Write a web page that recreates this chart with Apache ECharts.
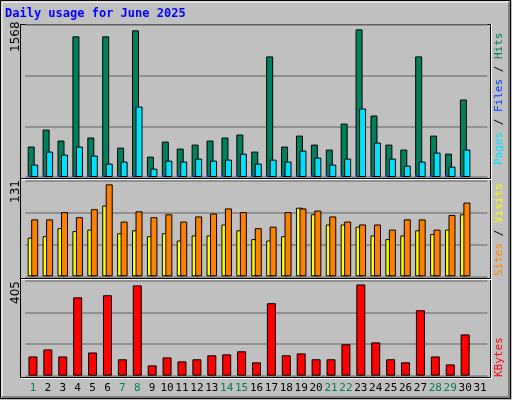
<!DOCTYPE html>
<html><head><meta charset="utf-8">
<script src="https://cdn.jsdelivr.net/npm/echarts@6/dist/echarts.min.js"></script>
<style>html,body{margin:0;padding:0;background:#c0c0c0}#c{width:512px;height:400px}</style>
</head><body><div id="c"></div>
<script>
const days = ['1','2','3','4','5','6','7','8','9','10','11','12','13','14','15','16','17','18','19','20','21','22','23','24','25','26','27','28','29','30','31'];
const weekend = ['1','7','8','14','15','21','22','28','29'];
const hits = [314,489,376,1451,407,1451,303,1513,210,365,293,334,376,407,438,262,1244,314,427,334,283,551,1523,634,334,283,1244,427,241,799,null];
const pages = [128,262,231,314,221,138,159,727,86,169,159,190,169,179,241,138,179,159,272,200,128,190,706,355,190,117,159,252,107,283,null];
const files = [25,25,25,25,25,25,25,25,25,25,25,25,25,25,25,25,25,25,25,25,25,25,25,25,25,25,25,25,25,25,null];
const visits = [53,55,66,62,64,97,59,63,55,59,49,56,56,71,63,51,49,55,94,85,71,71,68,56,51,56,63,58,64,85,null];
const sites = [78,78,88,81,92,126,75,89,81,85,75,82,86,93,88,66,68,88,93,90,82,75,71,71,64,78,78,64,84,101,null];
const kbytes = [82,112,82,334,99,343,70,385,44,78,61,70,87,91,104,57,309,87,95,70,70,134,389,142,70,57,279,82,48,176,null];
const maxHits = 1568, maxVisits = 131, maxKB = 405;

const L = 25.5, W = 462;
const grids = [
  {left:L, width:W, top:25, height:152},
  {left:L, width:W, top:180.7, height:95.6},
  {left:L, width:W, top:280.7, height:95}
];
const F = '11px "DejaVu Sans Mono"';
function xa(gi, show){
  return {type:'category', data:days, gridIndex:gi, boundaryGap:true,
    axisLine:{show:false}, axisTick:{show:false}, splitLine:{show:false},
    axisLabel:{show:!!show, interval:0, margin:7, fontFamily:'DejaVu Sans Mono', fontSize:11,
      formatter:v=> weekend.includes(v)?'{g|'+v+'}':'{b|'+v+'}',
      rich:{g:{color:'#00805c',fontFamily:'DejaVu Sans Mono',fontSize:11},b:{color:'#000',fontFamily:'DejaVu Sans Mono',fontSize:11}}}};
}
function ya(gi, max){
  return {type:'value', gridIndex:gi, min:0, max:max, interval:max/3,
    axisLine:{show:false}, axisTick:{show:false}, axisLabel:{show:false},
    splitLine:{lineStyle:{color:'#808080', width:1.5}}};
}
const bs = c => ({color:c, borderColor:'#000', borderWidth:1});
const option = {
  animation:false, backgroundColor:'#c0c0c0',
  grid: grids,
  xAxis:[xa(0), xa(0), xa(1), xa(2,true)],
  yAxis:[ya(0,maxHits), ya(1,maxVisits), ya(2,maxKB)],
  series:[
    {name:'Hits', type:'bar', xAxisIndex:0, yAxisIndex:0, data:hits, barWidth:7, barGap:'-50%', itemStyle:bs('#00805c')},
    {name:'Pages', type:'bar', xAxisIndex:0, yAxisIndex:0, data:pages, barWidth:7, barGap:'-50%', itemStyle:bs('#00e0ff')},
    {name:'Files', type:'bar', xAxisIndex:1, yAxisIndex:0, data:files, barWidth:2, barGap:'0%', itemStyle:{color:'#0040ff'}},
    {name:'pad', type:'bar', xAxisIndex:1, yAxisIndex:0, data:files.map(()=>null), barWidth:8, barGap:'0%', silent:true, itemStyle:{color:'transparent'}},
    {name:'Visits', type:'bar', xAxisIndex:2, yAxisIndex:1, data:visits, barWidth:7, barGap:'-50%', itemStyle:bs('#ffff00')},
    {name:'Sites', type:'bar', xAxisIndex:2, yAxisIndex:1, data:sites, barWidth:7, barGap:'-50%', itemStyle:bs('#ff8000')},
    {name:'KBytes', type:'bar', xAxisIndex:3, yAxisIndex:2, data:kbytes, barWidth:9, itemStyle:bs('#ff0000')}
  ],
  graphic:[
    {type:'rect', z:-10, shape:{x:0.5,y:0.5,width:510,height:398}, style:{fill:'none', stroke:'#000', lineWidth:1}},
    {type:'rect', z:-10, shape:{x:2,y:2,width:507,height:395}, style:{fill:'none', stroke:'#fff', lineWidth:1}},
    {type:'polyline', z:-10, shape:{points:[[2,397],[509,397],[509,2]]}, style:{stroke:'#808080', lineWidth:2, fill:null}},
    {type:'rect', z:-9, shape:{x:20.5,y:24.5,width:470,height:353}, style:{fill:'none', stroke:'#000', lineWidth:1}},
    {type:'polyline', z:-9, shape:{points:[[21,378.5],[491.5,378.5],[491.5,24]]}, style:{stroke:'#fff', lineWidth:1, fill:null}},
    {type:'line', z:10, shape:{x1:21,y1:178.5,x2:491,y2:178.5}, style:{stroke:'#000', lineWidth:1}},
    {type:'line', z:10, shape:{x1:21,y1:179.5,x2:491,y2:179.5}, style:{stroke:'#fff', lineWidth:1}},
    {type:'line', z:10, shape:{x1:21,y1:278.5,x2:491,y2:278.5}, style:{stroke:'#000', lineWidth:1}},
    {type:'line', z:10, shape:{x1:21,y1:279.5,x2:491,y2:279.5}, style:{stroke:'#fff', lineWidth:1}},
    {type:'text', left:5, top:8, style:{text:'Daily usage for June 2025', fill:'#0000ff', font:'bold 12px "DejaVu Sans Mono"'}},
    {type:'text', x:10, y:52, rotation:Math.PI/2, style:{text:String(maxHits), fill:'#000', font:'12px "DejaVu Sans"', align:'left', verticalAlign:'top'}},
    {type:'text', x:10, y:203, rotation:Math.PI/2, style:{text:String(maxVisits), fill:'#000', font:'12px "DejaVu Sans"', align:'left', verticalAlign:'top'}},
    {type:'text', x:10, y:304, rotation:Math.PI/2, style:{text:String(maxKB), fill:'#000', font:'12px "DejaVu Sans"', align:'left', verticalAlign:'top'}},
    {type:'text', x:494, y:165, rotation:Math.PI/2, style:{text:'{p|Pages}{k| / }{f|Files}{k| / }{h|Hits}', align:'left', verticalAlign:'top', font:F,
      rich:{p:{fill:'#00e0ff',font:F},f:{fill:'#0040ff',font:F},h:{fill:'#00805c',font:F},k:{fill:'#000',font:F}}}},
    {type:'text', x:494, y:276, rotation:Math.PI/2, style:{text:'{s|Sites}{k| / }{v|Visits}', align:'left', verticalAlign:'top', font:F,
      rich:{s:{fill:'#ff8000',font:F},v:{fill:'#ffff00',font:F},k:{fill:'#000',font:F}}}},
    {type:'text', x:494, y:377, rotation:Math.PI/2, style:{text:'KBytes', fill:'#ff0000', align:'left', verticalAlign:'top', font:F}}
  ]
};
echarts.init(document.getElementById('c')).setOption(option);
</script></body></html>
